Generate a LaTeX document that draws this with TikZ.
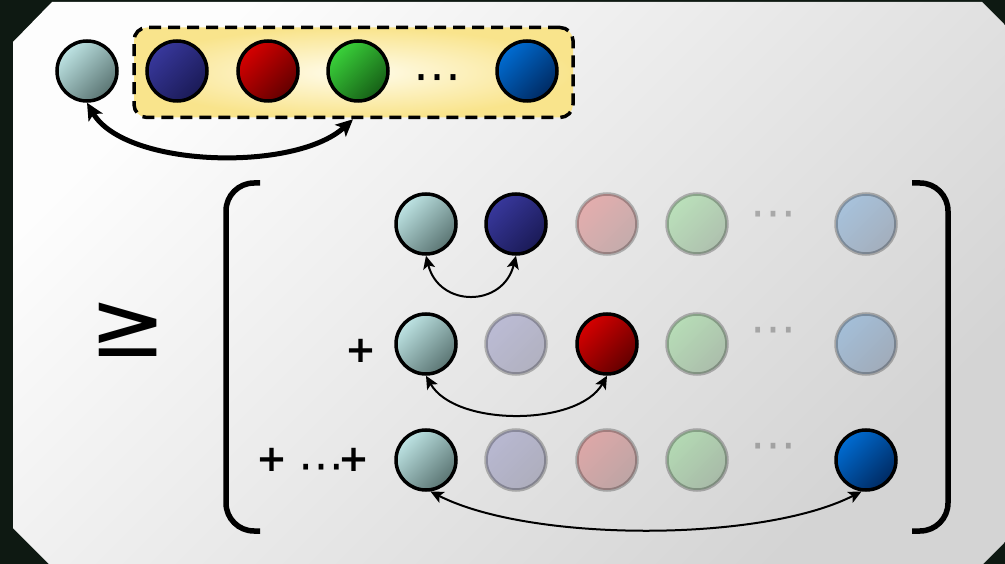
\documentclass[tikz,border=0pt]{standalone}
\usepackage{fontspec}
\setmainfont{DejaVu Sans}
\usetikzlibrary{arrows.meta}

\definecolor{bgdark}{RGB}{14,25,18}
\definecolor{panelhi}{RGB}{253,253,253}
\definecolor{panello}{RGB}{212,212,212}
\definecolor{boxin}{RGB}{255,252,236}
\definecolor{boxout}{RGB}{249,228,140}
\definecolor{tealA}{RGB}{190,228,228}
\definecolor{tealB}{RGB}{90,116,114}
\definecolor{navyA}{RGB}{56,56,156}
\definecolor{navyB}{RGB}{26,26,86}
\definecolor{redA}{RGB}{214,0,0}
\definecolor{redB}{RGB}{98,0,0}
\definecolor{greenA}{RGB}{58,210,58}
\definecolor{greenB}{RGB}{22,94,22}
\definecolor{blueA}{RGB}{0,108,210}
\definecolor{blueB}{RGB}{0,42,98}

\begin{document}
\begin{tikzpicture}[x=1pt,y=-1pt,
  ball/.style 2 args={circle, draw=black, line width=3.5pt, minimum size=60pt,
    inner sep=0pt, top color=#1, bottom color=#2, shading angle=45},
  tealball/.style={ball={tealA}{tealB}},
  navyball/.style={ball={navyA}{navyB}},
  redball/.style={ball={redA}{redB}},
  greenball/.style={ball={greenA}{greenB}},
  blueball/.style={ball={blueA}{blueB}},
  faded/.style={opacity=0.25},
  dotsfont/.style={font=\fontsize{46}{46}\selectfont, inner sep=0pt},
  plusfont/.style={font=\fontsize{37}{37}\selectfont\bfseries, inner sep=0pt},
  link/.style={arrows={Stealth[length=13pt,width=12pt,inset=3pt]-Stealth[length=13pt,width=12pt,inset=3pt]},
    line width=2pt},
  biglink/.style={arrows={Stealth[length=17pt,width=16pt,inset=4pt]-Stealth[length=17pt,width=16pt,inset=4pt]},
    line width=5pt},
  brk/.style={line width=5.5pt, rounded corners=28pt},
]
\useasboundingbox (0,0) rectangle (1005,564);
\fill[bgdark] (0,0) rectangle (1005,564);
\shade[top color=panelhi, bottom color=panello, shading angle=45]
  (13,42) -- (52,2) -- (982,2) -- (1005,25) -- (1005,542) -- (983,564)
  -- (49,564) -- (13,528) -- cycle;

% the group of coloured balls
\node[draw=black, line width=3.5pt, dash pattern=on 12pt off 7pt, rounded corners=13pt,
  inner color=boxin, outer color=boxout, minimum width=439pt, minimum height=90pt]
  (grp) at (353.5,72.5) {};
\node[tealball] (t0) at (87,71) {};
\node[navyball] (t1) at (177,71) {};
\node[redball] (t2) at (268,71) {};
\node[greenball] (t3) at (358,71) {};
\node[dotsfont, font=\fontsize{48}{48}\selectfont] (tdots) at (437,84) {⋯};
\node[blueball] (t4) at (527,71) {};
\draw[biglink] (t0.south) .. controls +(38,65) and +(-58,53) .. ([xshift=-5pt]t3.center |- grp.south);

% inequality sign
\node[font=\fontsize{92}{92}\selectfont, inner sep=0pt] (geq) at (128,330) {≥};

% brackets
\draw[brk] (260,183) -- (226,183) -- (226,531) -- (260,531);
\draw[brk] (912,183) -- (948,183) -- (948,531) -- (912,531);

% first row
\node[tealball] (a1) at (426,224) {};
\node[navyball] (a2) at (516,224) {};
\node[redball,faded] (a3) at (607,224) {};
\node[greenball,faded] (a4) at (697,224) {};
\node[dotsfont,faded] (a5) at (773,220) {⋯};
\node[blueball,faded] (a6) at (866,224) {};
\draw[link] (a1.south) .. controls +(13,52) and +(-13,52) .. (a2.south);

% second row
\node[plusfont] (p2) at (361,351) {+};
\node[tealball] (b1) at (426,344) {};
\node[navyball,faded] (b2) at (516,344) {};
\node[redball] (b3) at (607,344) {};
\node[greenball,faded] (b4) at (697,344) {};
\node[dotsfont,faded] (b5) at (773,336) {⋯};
\node[blueball,faded] (b6) at (866,344) {};
\draw[link] (b1.south) .. controls +(29,51) and +(-29,51) .. (b3.south);

% third row
\node[plusfont, anchor=west] (p3) at (256.5,460)
  {+\hspace{10.5pt}\raisebox{-10pt}[0pt][0pt]{\mdseries\fontsize{46}{46}\selectfont ⋯}\hspace{-6.2pt}+};
\node[tealball] (c1) at (426,460) {};
\node[navyball,faded] (c2) at (516,460) {};
\node[redball,faded] (c3) at (607,460) {};
\node[greenball,faded] (c4) at (697,460) {};
\node[dotsfont,faded] (c5) at (773,452) {⋯};
\node[blueball] (c6) at (866,460) {};
\draw[link] (c1.-82) .. controls +(100,51) and +(-100,51) .. (c6.-98);
\end{tikzpicture}
\end{document}
